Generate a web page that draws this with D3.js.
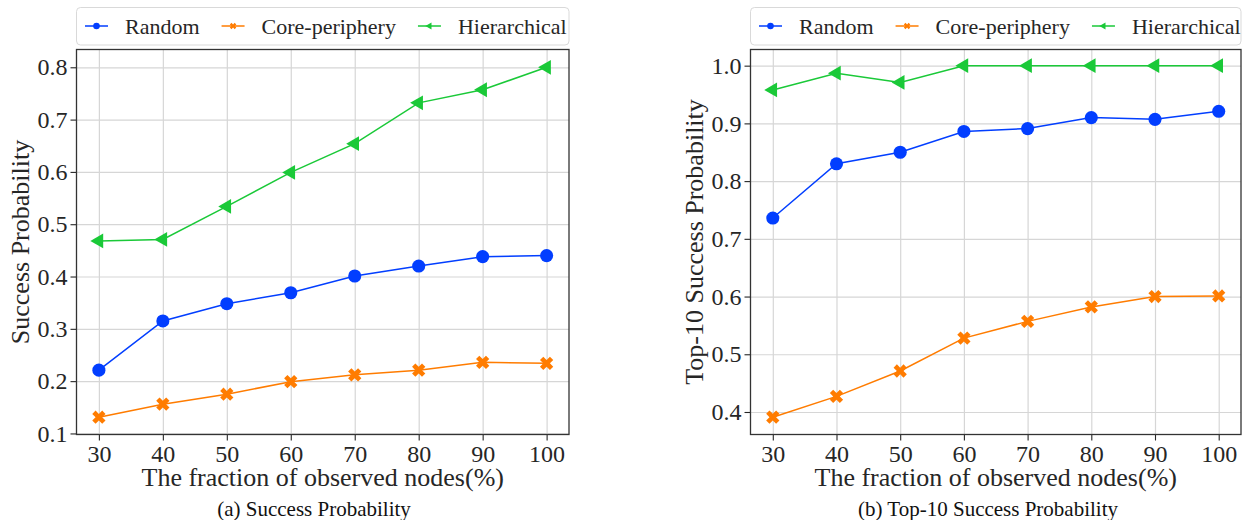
<!DOCTYPE html>
<html>
<head>
<meta charset="utf-8">
<script src="https://cdn.jsdelivr.net/npm/d3@7"></script>
<style>
  html, body { margin: 0; padding: 0; background: #fff; }
  svg, svg text { font-family: "Liberation Serif", "Times New Roman", serif; }
</style>
</head>
<body>
<div id="chart"></div>
<script>
// ---------- data ----------
const X_VALUES = [30, 40, 50, 60, 70, 80, 90, 100];
const SERIES_NAMES = ["Random", "Core-periphery", "Hierarchical"];
const SERIES_COLORS = ["#023eff", "#ff7c00", "#1ac938"];

// (a) Success Probability
const SUCCESS_RANDOM = [0.221, 0.315, 0.348, 0.369, 0.401, 0.420, 0.438, 0.440];
const SUCCESS_CORE = [0.131, 0.156, 0.175, 0.199, 0.212, 0.221, 0.236, 0.234];
const SUCCESS_HIER = [0.468, 0.471, 0.534, 0.599, 0.654, 0.732, 0.757, 0.800];

// (b) Top-10 Success Probability
const TOP10_RANDOM = [0.736, 0.830, 0.850, 0.886, 0.891, 0.910, 0.907, 0.921];
const TOP10_CORE = [0.391, 0.427, 0.471, 0.528, 0.557, 0.582, 0.600, 0.601];
const TOP10_HIER = [0.958, 0.987, 0.971, 1.000, 1.000, 1.000, 1.000, 1.000];

const Y_TICKS_A = [0.1, 0.2, 0.3, 0.4, 0.5, 0.6, 0.7, 0.8];
const Y_TICKS_B = [0.4, 0.5, 0.6, 0.7, 0.8, 0.9, 1.0];

const X_LABEL = "The fraction of observed nodes(%)";

const panels = [
  {
    left: 76.5, right: 569,
    yDomain: [0.098, 0.834], yTicks: Y_TICKS_A,
    series: [SUCCESS_RANDOM, SUCCESS_CORE, SUCCESS_HIER],
    yLabel: "Success Probability",
    caption: "(a) Success Probability", captionX: 314
  },
  {
    left: 750.5, right: 1241,
    yDomain: [0.361, 1.028], yTicks: Y_TICKS_B,
    series: [TOP10_RANDOM, TOP10_CORE, TOP10_HIER],
    yLabel: "Top-10 Success Probability",
    caption: "(b) Top-10 Success Probability", captionX: 988
  }
];

const W = 1242, H = 520;
const plotTop = 49.5, plotBottom = 434.5;
const textColor = "#262626";
const gridColor = "#d6d6d6";

// ---------- helpers ----------
// marker path per series index, size in d3 symbol area units
function markerPath(i, size) {
  if (i === 0) return d3.symbol(d3.symbolCircle, size)();
  if (i === 1) return d3.symbol(d3.symbolCross, size)();
  return d3.symbol(d3.symbolTriangle, size)();
}
function markerRotate(i) {
  if (i === 1) return 45;
  if (i === 2) return -90;
  return 0;
}
const MARKER_SIZES = [135, 110, 95];
const LEGEND_MARKER_SIZES = [34, 26, 22];

const svg = d3.select("#chart").append("svg")
  .attr("width", W)
  .attr("height", H);

function styleAxis(a) {
  a.attr("font-family", null).attr("font-size", null);
  a.select(".domain").remove();
  a.selectAll("line").attr("stroke", textColor).attr("stroke-width", 1.1);
  a.selectAll("text")
    .attr("fill", textColor)
    .style("font-size", "24px")
    .style("font-family", "'Liberation Serif', 'Times New Roman', serif");
}

function drawPanel(p) {
  const x = d3.scaleLinear().domain([26.5, 103.5]).range([p.left, p.right]);
  const y = d3.scaleLinear().domain(p.yDomain).range([plotBottom, plotTop]);
  const innerW = p.right - p.left;
  const innerH = plotBottom - plotTop;

  const g = svg.append("g");

  // grid
  g.append("g")
    .attr("transform", `translate(0,${plotBottom})`)
    .call(d3.axisBottom(x).tickValues(X_VALUES).tickSize(-innerH).tickFormat(""))
    .call(a => a.select(".domain").remove())
    .call(a => a.selectAll("line").attr("stroke", gridColor).attr("stroke-width", 1.2));

  g.append("g")
    .attr("transform", `translate(${p.left},0)`)
    .call(d3.axisLeft(y).tickValues(p.yTicks).tickSize(-innerW).tickFormat(""))
    .call(a => a.select(".domain").remove())
    .call(a => a.selectAll("line").attr("stroke", gridColor).attr("stroke-width", 1.2));

  // axes with outward ticks
  g.append("g")
    .attr("transform", `translate(0,${plotBottom})`)
    .call(d3.axisBottom(x).tickValues(X_VALUES).tickSize(6).tickPadding(4).tickFormat(d3.format("d")))
    .call(styleAxis);

  g.append("g")
    .attr("transform", `translate(${p.left},0)`)
    .call(d3.axisLeft(y).tickValues(p.yTicks).tickSize(6).tickPadding(3).tickFormat(d3.format(".1f")))
    .call(styleAxis);

  // frame
  g.append("rect")
    .attr("x", p.left)
    .attr("y", plotTop)
    .attr("width", innerW)
    .attr("height", innerH)
    .attr("fill", "none")
    .attr("stroke", "#333")
    .attr("stroke-width", 1.3);

  // lines + markers
  const line = d3.line()
    .x((d, j) => x(X_VALUES[j]))
    .y(d => y(d));

  p.series.forEach((values, i) => {
    g.append("path")
      .attr("d", line(values))
      .attr("fill", "none")
      .attr("stroke", SERIES_COLORS[i])
      .attr("stroke-width", 1.5);

    g.append("g").selectAll("path")
      .data(values)
      .join("path")
      .attr("d", markerPath(i, MARKER_SIZES[i]))
      .attr("transform", (d, j) => `translate(${x(X_VALUES[j])},${y(d)}) rotate(${markerRotate(i)})`)
      .attr("fill", SERIES_COLORS[i]);
  });

  // axis labels
  svg.append("text")
    .attr("x", (p.left + p.right) / 2)
    .attr("y", 486)
    .attr("text-anchor", "middle")
    .attr("font-size", 26)
    .attr("fill", textColor)
    .text(X_LABEL);

  svg.append("text")
    .attr("transform", `translate(${p.left - 48},${(plotTop + plotBottom) / 2}) rotate(-90)`)
    .attr("text-anchor", "middle")
    .attr("font-size", 26)
    .attr("fill", textColor)
    .text(p.yLabel);

  svg.append("text")
    .attr("x", p.captionX)
    .attr("y", 516)
    .attr("text-anchor", "middle")
    .attr("font-size", 21)
    .attr("fill", "#111")
    .text(p.caption);

  // legend
  const lg = svg.append("g").attr("transform", `translate(${p.left},7.5)`);
  lg.append("rect")
    .attr("width", innerW)
    .attr("height", 37.5)
    .attr("rx", 4)
    .attr("fill", "#fff")
    .attr("stroke", "#d9d9d9")
    .attr("stroke-width", 1);

  let cx = 8.5;
  SERIES_NAMES.forEach((name, i) => {
    const item = lg.append("g").attr("transform", `translate(${cx},18.5)`);
    item.append("line")
      .attr("x1", 0).attr("x2", 23)
      .attr("stroke", SERIES_COLORS[i])
      .attr("stroke-width", 1.5);
    item.append("path")
      .attr("d", markerPath(i, LEGEND_MARKER_SIZES[i]))
      .attr("transform", `translate(11.5,0) rotate(${markerRotate(i)})`)
      .attr("fill", SERIES_COLORS[i]);
    const t = item.append("text")
      .attr("x", 40)
      .attr("y", 8)
      .attr("font-size", 22)
      .attr("fill", textColor)
      .text(name);
    cx += 40 + t.node().getComputedTextLength() + 22;
  });
}

panels.forEach(drawPanel);
</script>
</body>
</html>
